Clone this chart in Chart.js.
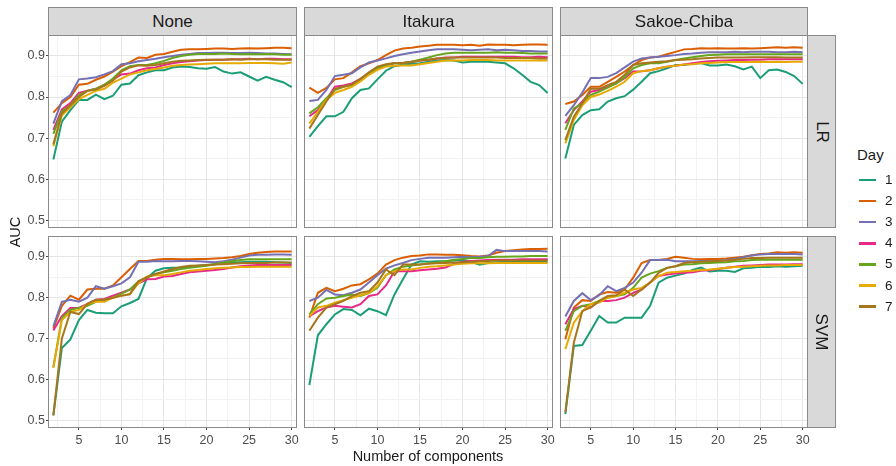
<!DOCTYPE html>
<html>
<head>
<meta charset="utf-8">
<script src="https://cdn.jsdelivr.net/npm/chart.js@4.4.0/dist/chart.umd.min.js"></script>
<style>
  body { margin: 0; background: #fff; font-family: "Liberation Sans", Arial, sans-serif; }
  #fig { position: relative; width: 896px; height: 466px; overflow: hidden; }
  #fig canvas, .strip, .lbl, .key { position: absolute; }
  .strip { box-sizing: border-box; background: #d9d9d9; border: 1px solid #8a8a8a; color: #1a1a1a;
           font-size: 17px; display: flex; align-items: center; justify-content: center; }
  .strip.side span { transform: rotate(90deg); white-space: nowrap; }
  .lbl { color: #1a1a1a; white-space: nowrap; line-height: 18px; }
</style>
</head>
<body>
<div id="fig"></div>
<script>
var components = [2,3,4,5,6,7,8,9,10,11,12,13,14,15,16,17,18,19,20,21,22,23,24,25,26,27,28,29,30];
var days = ['1','2','3','4','5','6','7'];
var dayColors = ['#1B9E77','#D95F02','#7570B3','#E7298A','#66A61E','#E6AB02','#A6761D'];
var methods = ['None','Itakura','Sakoe-Chiba'];
var models = ['LR','SVM'];
var xTicks = [2.5,5,7.5,10,12.5,15,17.5,20,22.5,25,27.5,30];
var yTicks = [0.5,0.55,0.6,0.65,0.7,0.75,0.8,0.85,0.9,0.95];

// AUC, one row per day (1..7)
var lrNone = [
  [0.648,0.740,0.768,0.793,0.793,0.806,0.795,0.803,0.830,0.833,0.853,0.860,0.865,0.865,0.872,0.874,0.873,0.870,0.869,0.873,0.862,0.857,0.860,0.850,0.840,0.849,0.842,0.836,0.824],
  [0.762,0.785,0.800,0.830,0.832,0.842,0.850,0.862,0.875,0.885,0.896,0.895,0.903,0.905,0.910,0.915,0.916,0.916,0.917,0.918,0.918,0.917,0.918,0.919,0.918,0.919,0.920,0.920,0.919],
  [0.735,0.790,0.805,0.843,0.845,0.848,0.855,0.863,0.880,0.882,0.887,0.890,0.893,0.897,0.900,0.903,0.905,0.907,0.907,0.908,0.908,0.907,0.907,0.908,0.907,0.906,0.906,0.905,0.904],
  [0.720,0.770,0.785,0.810,0.815,0.820,0.830,0.842,0.855,0.857,0.865,0.870,0.872,0.878,0.882,0.885,0.887,0.889,0.890,0.891,0.891,0.892,0.892,0.893,0.892,0.893,0.893,0.892,0.892],
  [0.710,0.765,0.780,0.805,0.815,0.820,0.830,0.845,0.865,0.875,0.878,0.878,0.882,0.888,0.895,0.900,0.903,0.905,0.905,0.905,0.906,0.905,0.904,0.905,0.904,0.905,0.904,0.903,0.903],
  [0.680,0.755,0.775,0.795,0.805,0.815,0.820,0.835,0.845,0.855,0.860,0.865,0.868,0.872,0.876,0.878,0.879,0.880,0.881,0.882,0.882,0.882,0.882,0.883,0.883,0.883,0.882,0.881,0.884],
  [0.685,0.760,0.780,0.800,0.815,0.818,0.827,0.840,0.862,0.872,0.877,0.876,0.878,0.882,0.886,0.888,0.889,0.890,0.891,0.891,0.891,0.892,0.891,0.892,0.892,0.892,0.891,0.891,0.891]
];
var lrItakura = [
  [0.703,0.729,0.753,0.753,0.764,0.797,0.817,0.821,0.843,0.864,0.875,0.879,0.881,0.882,0.886,0.889,0.890,0.889,0.884,0.886,0.886,0.886,0.884,0.882,0.870,0.854,0.837,0.829,0.810],
  [0.823,0.810,0.822,0.843,0.846,0.860,0.875,0.882,0.890,0.902,0.913,0.918,0.920,0.923,0.925,0.927,0.927,0.927,0.926,0.927,0.925,0.928,0.927,0.927,0.926,0.927,0.928,0.928,0.927],
  [0.790,0.793,0.817,0.851,0.854,0.858,0.872,0.884,0.889,0.894,0.900,0.904,0.908,0.911,0.914,0.916,0.916,0.916,0.915,0.914,0.915,0.916,0.914,0.915,0.914,0.912,0.912,0.911,0.911],
  [0.753,0.768,0.793,0.825,0.828,0.833,0.844,0.858,0.870,0.878,0.882,0.883,0.886,0.889,0.891,0.894,0.896,0.896,0.898,0.898,0.898,0.898,0.898,0.898,0.898,0.897,0.897,0.898,0.897],
  [0.760,0.775,0.797,0.817,0.825,0.830,0.842,0.856,0.870,0.878,0.882,0.883,0.886,0.891,0.896,0.902,0.906,0.908,0.908,0.908,0.908,0.908,0.909,0.908,0.908,0.907,0.906,0.906,0.906],
  [0.735,0.764,0.793,0.810,0.817,0.825,0.838,0.854,0.866,0.874,0.876,0.877,0.877,0.880,0.883,0.886,0.889,0.889,0.889,0.890,0.890,0.890,0.889,0.889,0.889,0.889,0.889,0.889,0.889],
  [0.723,0.756,0.789,0.820,0.825,0.830,0.844,0.860,0.874,0.880,0.883,0.883,0.885,0.889,0.891,0.894,0.895,0.896,0.896,0.896,0.896,0.896,0.896,0.895,0.895,0.895,0.895,0.894,0.894]
];
var lrSakoe = [
  [0.650,0.732,0.756,0.768,0.770,0.789,0.797,0.802,0.818,0.837,0.858,0.863,0.870,0.878,0.878,0.881,0.883,0.877,0.877,0.879,0.875,0.867,0.874,0.846,0.865,0.867,0.861,0.851,0.832],
  [0.783,0.789,0.805,0.825,0.825,0.837,0.849,0.862,0.878,0.890,0.896,0.898,0.904,0.910,0.916,0.917,0.919,0.918,0.919,0.918,0.918,0.919,0.918,0.919,0.920,0.921,0.920,0.921,0.920],
  [0.754,0.780,0.811,0.846,0.846,0.849,0.858,0.872,0.886,0.894,0.896,0.898,0.900,0.902,0.905,0.906,0.908,0.909,0.909,0.909,0.910,0.909,0.910,0.910,0.910,0.909,0.909,0.910,0.909],
  [0.736,0.768,0.789,0.813,0.817,0.825,0.833,0.846,0.862,0.863,0.865,0.870,0.874,0.876,0.879,0.882,0.885,0.887,0.888,0.889,0.890,0.890,0.891,0.891,0.892,0.892,0.892,0.892,0.892],
  [0.720,0.772,0.784,0.805,0.813,0.823,0.833,0.848,0.870,0.878,0.882,0.882,0.886,0.890,0.894,0.897,0.900,0.902,0.903,0.904,0.904,0.904,0.904,0.904,0.904,0.904,0.904,0.904,0.904],
  [0.687,0.744,0.780,0.800,0.806,0.815,0.825,0.837,0.858,0.863,0.865,0.870,0.874,0.876,0.879,0.880,0.882,0.883,0.884,0.885,0.885,0.885,0.885,0.886,0.885,0.886,0.885,0.886,0.886],
  [0.695,0.752,0.784,0.820,0.820,0.829,0.837,0.854,0.878,0.882,0.884,0.886,0.887,0.890,0.891,0.892,0.894,0.895,0.896,0.896,0.896,0.896,0.897,0.897,0.897,0.897,0.896,0.896,0.896]
];
var svmNone = [
  [0.512,0.677,0.698,0.745,0.770,0.763,0.762,0.762,0.779,0.787,0.797,0.848,0.866,0.872,0.873,0.874,0.876,0.878,0.880,0.882,0.884,0.886,0.887,0.888,0.888,0.888,0.887,0.886,0.885],
  [0.725,0.780,0.805,0.795,0.820,0.822,0.822,0.830,0.850,0.870,0.890,0.890,0.893,0.895,0.895,0.894,0.894,0.895,0.895,0.896,0.897,0.899,0.902,0.907,0.910,0.912,0.913,0.913,0.913],
  [0.730,0.790,0.795,0.790,0.800,0.828,0.822,0.828,0.835,0.850,0.888,0.888,0.890,0.889,0.889,0.890,0.890,0.889,0.888,0.887,0.889,0.893,0.898,0.903,0.905,0.905,0.906,0.906,0.905],
  [0.720,0.755,0.775,0.775,0.785,0.795,0.797,0.805,0.812,0.820,0.835,0.845,0.846,0.852,0.853,0.858,0.862,0.864,0.866,0.868,0.870,0.874,0.877,0.879,0.880,0.880,0.880,0.880,0.880],
  [0.630,0.750,0.770,0.775,0.780,0.790,0.795,0.800,0.810,0.820,0.840,0.850,0.858,0.862,0.866,0.870,0.873,0.876,0.878,0.882,0.886,0.889,0.892,0.894,0.894,0.894,0.894,0.894,0.894],
  [0.628,0.745,0.765,0.770,0.785,0.790,0.790,0.800,0.805,0.810,0.835,0.852,0.855,0.855,0.858,0.862,0.866,0.868,0.870,0.872,0.873,0.874,0.875,0.875,0.876,0.876,0.876,0.876,0.876],
  [0.512,0.700,0.765,0.760,0.785,0.795,0.795,0.800,0.805,0.808,0.840,0.850,0.858,0.864,0.870,0.875,0.878,0.879,0.880,0.881,0.882,0.883,0.884,0.885,0.885,0.885,0.886,0.886,0.886]
];
var svmItakura = [
  [0.586,0.708,0.735,0.759,0.772,0.770,0.757,0.773,0.767,0.757,0.808,0.845,0.881,0.889,0.888,0.889,0.889,0.891,0.893,0.888,0.881,0.885,0.887,0.888,0.888,0.888,0.888,0.888,0.888],
  [0.751,0.812,0.824,0.816,0.822,0.830,0.833,0.845,0.859,0.881,0.892,0.898,0.902,0.903,0.906,0.906,0.905,0.905,0.904,0.902,0.901,0.903,0.910,0.914,0.916,0.918,0.919,0.919,0.920],
  [0.792,0.800,0.819,0.808,0.806,0.812,0.820,0.837,0.855,0.871,0.879,0.885,0.892,0.895,0.898,0.898,0.898,0.899,0.900,0.899,0.900,0.902,0.917,0.914,0.914,0.914,0.914,0.914,0.913],
  [0.755,0.767,0.776,0.780,0.778,0.776,0.784,0.804,0.808,0.830,0.865,0.865,0.865,0.867,0.869,0.871,0.874,0.883,0.888,0.890,0.891,0.892,0.893,0.893,0.893,0.894,0.894,0.894,0.894],
  [0.759,0.784,0.798,0.800,0.804,0.808,0.804,0.811,0.824,0.855,0.869,0.876,0.879,0.881,0.884,0.886,0.889,0.893,0.895,0.897,0.897,0.899,0.900,0.900,0.901,0.901,0.902,0.902,0.902],
  [0.755,0.776,0.780,0.788,0.794,0.800,0.806,0.812,0.828,0.855,0.865,0.869,0.869,0.873,0.876,0.877,0.879,0.881,0.883,0.884,0.884,0.884,0.885,0.885,0.885,0.885,0.885,0.885,0.885],
  [0.719,0.751,0.776,0.784,0.792,0.804,0.812,0.816,0.837,0.869,0.855,0.881,0.881,0.881,0.883,0.884,0.885,0.886,0.887,0.888,0.889,0.890,0.891,0.891,0.891,0.891,0.891,0.891,0.891]
];
var svmSakoe = [
  [0.515,0.682,0.684,0.719,0.755,0.739,0.739,0.751,0.751,0.751,0.780,0.837,0.849,0.854,0.859,0.868,0.874,0.864,0.866,0.866,0.863,0.872,0.873,0.876,0.875,0.877,0.876,0.877,0.878],
  [0.698,0.776,0.794,0.792,0.808,0.814,0.812,0.820,0.849,0.885,0.892,0.892,0.895,0.900,0.898,0.895,0.894,0.895,0.895,0.896,0.898,0.900,0.904,0.907,0.908,0.911,0.910,0.911,0.910],
  [0.754,0.792,0.811,0.794,0.806,0.828,0.816,0.824,0.837,0.861,0.892,0.892,0.893,0.889,0.889,0.889,0.890,0.890,0.890,0.892,0.895,0.899,0.903,0.906,0.907,0.907,0.907,0.907,0.906],
  [0.735,0.772,0.780,0.776,0.792,0.792,0.794,0.800,0.812,0.820,0.837,0.853,0.857,0.859,0.861,0.862,0.866,0.867,0.870,0.873,0.876,0.878,0.879,0.880,0.881,0.881,0.881,0.882,0.882],
  [0.719,0.767,0.780,0.784,0.792,0.800,0.804,0.808,0.824,0.849,0.859,0.865,0.873,0.877,0.881,0.882,0.884,0.885,0.886,0.887,0.889,0.890,0.892,0.893,0.893,0.893,0.893,0.893,0.893],
  [0.674,0.739,0.767,0.784,0.788,0.800,0.804,0.812,0.820,0.824,0.837,0.853,0.861,0.863,0.865,0.866,0.868,0.869,0.871,0.873,0.875,0.876,0.877,0.878,0.879,0.879,0.880,0.880,0.880],
  [0.520,0.690,0.767,0.776,0.792,0.804,0.806,0.820,0.804,0.820,0.837,0.861,0.873,0.877,0.885,0.887,0.888,0.889,0.890,0.891,0.893,0.895,0.897,0.897,0.898,0.898,0.898,0.898,0.898]
];

var panelData = [[lrNone, lrItakura, lrSakoe], [svmNone, svmItakura, svmSakoe]];

// layout of the facet grid (pixels)
var colLeft = [48, 304, 560], colRight = [297, 553, 808];
var rowTop = [35, 236], rowBottom = [228, 428];
var fig = document.getElementById('fig');

function isMajorX(v) { return v % 5 === 0; }
function isMajorY(v) { return Math.abs(v * 10 - Math.round(v * 10)) < 1e-6; }

// no label overflow padding, so every panel keeps its exact plot box
function noPad(s) { s.paddingTop = 0; s.paddingBottom = 0; s.paddingLeft = 0; s.paddingRight = 0; }

var frame = {
  id: 'frame',
  afterDraw: function (chart) {
    var a = chart.chartArea, c = chart.ctx;
    c.save();
    c.strokeStyle = '#8a8a8a';
    c.lineWidth = 1;
    c.strokeRect(Math.round(a.left) + 0.5, Math.round(a.top) + 0.5,
                 Math.round(a.right - a.left) - 1, Math.round(a.bottom - a.top) - 1);
    c.restore();
  }
};

function makePanel(row, col) {
  var left = col === 0 ? 0 : colLeft[col];
  var yAxisW = col === 0 ? colLeft[0] : 0;
  var xAxisH = row === 1 ? 24 : 0;
  var padR = row === 1 ? 6 : 0;   // room for the "30" label past the panel edge
  var canvas = document.createElement('canvas');
  canvas.width = colRight[col] - left + padR;
  canvas.height = rowBottom[row] - rowTop[row] + xAxisH;
  canvas.style.left = left + 'px';
  canvas.style.top = rowTop[row] + 'px';
  fig.appendChild(canvas);

  var values = panelData[row][col];
  var datasets = values.map(function (v, i) {
    return {
      label: 'Day ' + days[i],
      data: v.map(function (y, j) { return { x: components[j], y: y }; }),
      borderColor: dayColors[i],
      backgroundColor: dayColors[i],
      borderWidth: 2,
      pointRadius: 0,
      fill: false,
      order: 6 - i
    };
  });

  new Chart(canvas.getContext('2d'), {
    type: 'line',
    data: { datasets: datasets },
    plugins: [frame],
    options: {
      responsive: false,
      animation: false,
      devicePixelRatio: 1,
      layout: { padding: { left: 0, top: 0, bottom: 0, right: padR }, autoPadding: false },
      plugins: { legend: { display: false }, tooltip: { enabled: false } },
      scales: {
        x: {
          type: 'linear', min: 1.37, max: 30.63,
          afterBuildTicks: function (s) { s.ticks = xTicks.map(function (v) { return { value: v }; }); },
          afterFit: function (s) { s.height = xAxisH; noPad(s); },
          border: { display: false },
          grid: {
            color: function (c) { return isMajorX(c.tick.value) ? '#e6e6e6' : '#f2f2f2'; },
            lineWidth: 1,
            drawTicks: row === 1,
            tickLength: 2,
            tickColor: function (c) { return isMajorX(c.tick.value) ? '#444' : 'rgba(0,0,0,0)'; }
          },
          ticks: {
            display: row === 1,
            autoSkip: false, maxRotation: 0,
            padding: 3,
            color: '#4d4d4d',
            font: { family: 'Liberation Sans', size: 12.5 },
            callback: function (v) { return isMajorX(v) ? String(v) : ''; }
          }
        },
        y: {
          type: 'linear', min: 0.481, max: 0.951,
          afterBuildTicks: function (s) { s.ticks = yTicks.map(function (v) { return { value: v }; }); },
          afterFit: function (s) { s.width = yAxisW; noPad(s); },
          border: { display: false },
          grid: {
            color: function (c) { return isMajorY(c.tick.value) ? '#e6e6e6' : '#f2f2f2'; },
            lineWidth: 1,
            drawTicks: col === 0,
            tickLength: 2,
            tickColor: function (c) { return isMajorY(c.tick.value) ? '#444' : 'rgba(0,0,0,0)'; }
          },
          ticks: {
            display: col === 0,
            autoSkip: false,
            padding: 1,
            color: '#4d4d4d',
            font: { family: 'Liberation Sans', size: 12.5 },
            callback: function (v) { return isMajorY(v) ? v.toFixed(1) : ''; }
          }
        }
      }
    }
  });
}

for (var r = 0; r < 2; r++) for (var c = 0; c < 3; c++) makePanel(r, c);

function addDiv(cls, html, css) {
  var d = document.createElement('div');
  d.className = cls;
  d.innerHTML = html;
  for (var k in css) d.style[k] = css[k];
  fig.appendChild(d);
  return d;
}

// facet strips
methods.forEach(function (m, i) {
  addDiv('strip', '<span>' + m + '</span>', {
    left: colLeft[i] + 'px', top: '7px', width: (colRight[i] - colLeft[i]) + 'px', height: '29px'
  });
});
models.forEach(function (m, i) {
  addDiv('strip side', '<span>' + m + '</span>', {
    left: (colRight[2] - 1) + 'px', top: rowTop[i] + 'px', width: '29px', height: (rowBottom[i] - rowTop[i]) + 'px'
  });
});

// axis titles
addDiv('lbl', 'Number of components', {
  left: colLeft[0] + 'px', width: (colRight[2] - colLeft[0]) + 'px', top: '447px',
  textAlign: 'center', fontSize: '14.5px'
});
addDiv('lbl', 'AUC', {
  left: '-15px', top: '223px', width: '60px', textAlign: 'center', fontSize: '14.5px',
  transform: 'rotate(-90deg)'
});

// legend
addDiv('lbl', 'Day', { left: '857px', top: '146px', fontSize: '15px' });
days.forEach(function (d, i) {
  var y = 180 + i * 21.1;
  addDiv('key', '', {
    left: '859px', top: (y - 1.25) + 'px', width: '17px', height: '2.5px', background: dayColors[i]
  });
  addDiv('lbl', d, { left: '885px', top: (y - 9) + 'px', fontSize: '13.5px' });
});
</script>
</body>
</html>
